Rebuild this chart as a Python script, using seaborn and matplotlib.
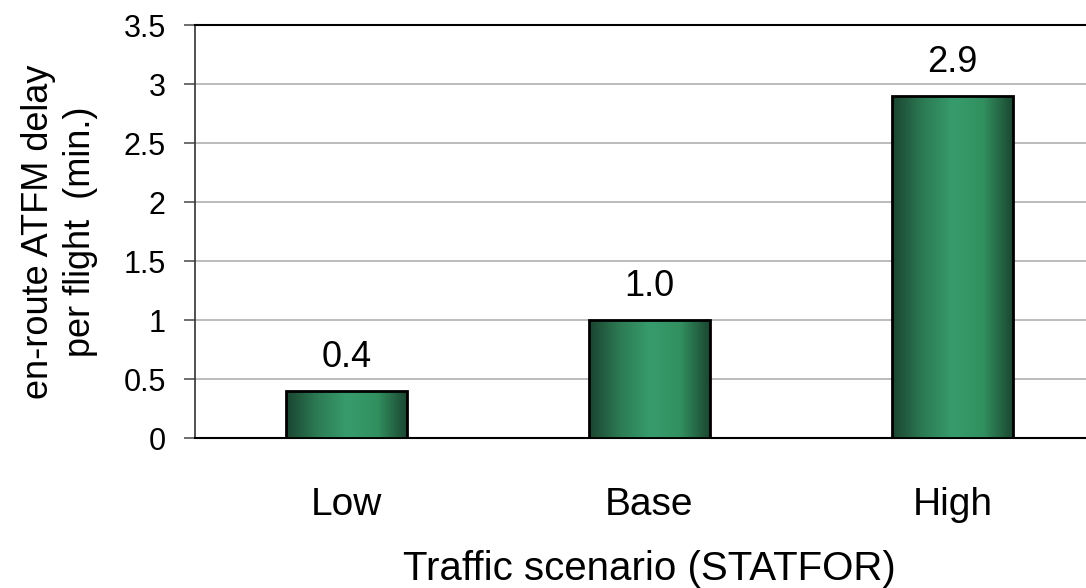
import numpy as np
import pandas as pd
import matplotlib
matplotlib.use("Agg")
import matplotlib.pyplot as plt
import seaborn as sns
from matplotlib.colors import LinearSegmentedColormap

scenarios = ["Low", "Base", "High"]
delay = [0.4, 1.0, 2.9]
bar_labels = ["0.4", "1.0", "2.9"]
y_ticks = [0, 0.5, 1, 1.5, 2, 2.5, 3, 3.5]
y_tick_labels = ["0", "0.5", "1", "1.5", "2", "2.5", "3", "3.5"]

sns.set_style("white")
plt.rcParams["font.family"] = ["Liberation Sans", "DejaVu Sans"]
plt.rcParams["text.color"] = "black"
plt.rcParams["axes.labelcolor"] = "black"

df = pd.DataFrame({"scenario": scenarios, "delay": delay})

fig = plt.figure(figsize=(10.86, 5.88), dpi=100)
ax = fig.add_axes([195 / 1086, 1 - 438 / 588, 909 / 1086, 413 / 588])

sns.barplot(data=df, x="scenario", y="delay", color="#2e8b5a", width=0.4,
            edgecolor="black", linewidth=2, ax=ax, zorder=3)

ax.set_xlim(-0.5, 2.5)
ax.set_ylim(0, 3.5)

# cylinder-like horizontal gradient inside each bar
cmap = LinearSegmentedColormap.from_list(
    "g", ["#1a4430", "#2c7a53", "#379c6c", "#32905f", "#1a4430"])
grad = np.linspace(0, 1, 256).reshape(1, -1)
for p in ax.patches:
    x0, y0 = p.get_x(), p.get_y()
    w, h = p.get_width(), p.get_height()
    im = ax.imshow(grad, cmap=cmap, aspect="auto",
                   extent=[x0, x0 + w, y0, y0 + h], zorder=3.5)
    im.set_clip_path(p)
    p.set_facecolor("none")
    p.set_zorder(4)

for i, (v, lab) in enumerate(zip(delay, bar_labels)):
    ax.text(i, v + 0.2, lab, ha="center", va="baseline", fontsize=26)

ax.set_yticks(y_ticks)
ax.set_yticklabels(y_tick_labels, fontsize=22)
ax.yaxis.grid(True, color="#b0b0b0", linewidth=1.2, zorder=0)
ax.set_axisbelow(True)

ax.set_xticks([0, 1, 2])
ax.set_xticklabels(scenarios, fontsize=28)
ax.set_xticks([-0.5, 0.5, 1.5], minor=True)
ax.tick_params(axis="x", which="major", length=0, pad=35, labelcolor="black")
ax.tick_params(axis="x", which="minor", length=10, width=1.2, color="#555555")
ax.tick_params(axis="y", length=8, width=1.2, left=True, color="#555555",
               pad=13, labelcolor="black")

ax.spines["right"].set_visible(False)
ax.spines["top"].set_color("black")
ax.spines["top"].set_linewidth(1.5)
ax.spines["left"].set_color("#333333")
ax.spines["bottom"].set_color("black")
ax.spines["left"].set_linewidth(1.2)
ax.spines["bottom"].set_linewidth(1.5)

ax.set_xlabel("Traffic scenario (STATFOR)", fontsize=29)
ax.xaxis.set_label_coords(0.5, -0.272)
ax.set_ylabel("en-route ATFM delay\nper flight  (min.)", fontsize=26,
              linespacing=1.25)
ax.yaxis.set_label_coords(-0.107, 0.5)

fig.savefig("out.png", dpi=100)
